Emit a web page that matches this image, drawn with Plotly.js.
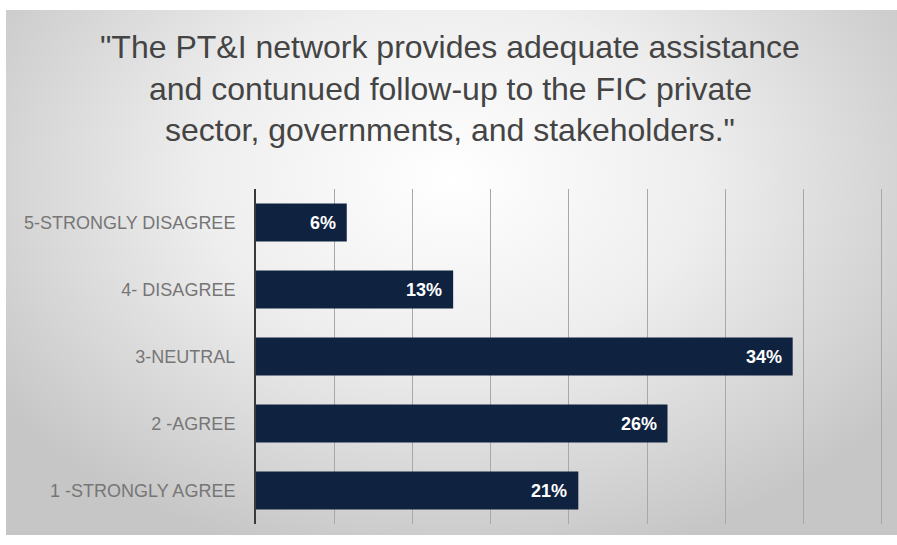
<!DOCTYPE html>
<html><head><meta charset="utf-8">
<script src="https://cdn.plot.ly/plotly-3.0.1.min.js"></script>
<style>
html,body{margin:0;padding:0;background:#ffffff;width:897px;height:545px;overflow:hidden;}
#bg{position:absolute;left:6px;top:10px;width:891px;height:525px;
  background:radial-gradient(ellipse 62% 75% at 50% 32%, #ffffff 0%, #eeeeee 45%, #c6c6c6 100%);}
#chart{position:absolute;left:0;top:0;width:897px;height:545px;}
</style></head><body>
<div id="bg"></div><div id="chart"></div>
<script>
const categories = ["1 -STRONGLY AGREE", "2 -AGREE", "3-NEUTRAL", "4- DISAGREE", "5-STRONGLY DISAGREE"];
const values = [0.206, 0.263, 0.343, 0.126, 0.058];
const valueLabels = ["21%", "26%", "34%", "13%", "6%"];
const gridTicks = [0, 0.05, 0.10, 0.15, 0.20, 0.25, 0.30, 0.35, 0.40];
const titleLines = [
  "\"The PT&I network provides adequate assistance",
  "and contunued follow-up to the FIC private",
  "sector, governments, and stakeholders.\""
];

const FONT = "Liberation Sans, Arial, sans-serif";

const W = 897, H = 545;
const M = {l: 256, r: 12, t: 189, b: 21};
const plotW = W - M.l - M.r, plotH = H - M.t - M.b;

const trace = {
  type: "bar",
  orientation: "h",
  x: values,
  y: categories,
  marker: {color: "#0f2340"},
  hoverinfo: "none"
};

const annotations = [];
const lineY = [47, 89, 130];
const titleCenterX = 450;
titleLines.forEach((t, i) => {
  annotations.push({
    text: t, xref: "paper", yref: "paper",
    x: (titleCenterX - M.l) / plotW, y: (H - M.b - lineY[i]) / plotH,
    showarrow: false, xanchor: "center", yanchor: "middle",
    font: {family: FONT, size: 32, color: "#444444"}
  });
});
values.forEach((v, i) => {
  annotations.push({
    x: v, y: categories[i], xref: "x", yref: "y", text: "<b>" + valueLabels[i] + "</b>",
    showarrow: false, xanchor: "right", yanchor: "middle", xshift: -9,
    font: {family: FONT, size: 18, color: "#ffffff"}
  });
});

const layout = {
  width: W, height: H,
  margin: M,
  paper_bgcolor: "rgba(0,0,0,0)",
  plot_bgcolor: "rgba(0,0,0,0)",
  showlegend: false,
  bargap: 0.43,
  xaxis: {
    range: [0, 0.402], tickvals: gridTicks, showticklabels: false,
    showgrid: true, gridcolor: "#a8a8a8", gridwidth: 1,
    zeroline: false, showline: false, fixedrange: true
  },
  yaxis: {
    type: "category", categoryorder: "array", categoryarray: categories,
    showgrid: false, zeroline: false, showline: true, linecolor: "#3a3a3a", linewidth: 2,
    ticks: "", ticklabelstandoff: 15,
    tickfont: {family: FONT, size: 18, color: "#767676"}, fixedrange: true
  },
  annotations: annotations
};

Plotly.newPlot("chart", [trace], layout, {displayModeBar: false, staticPlot: true});
</script>
</body></html>
